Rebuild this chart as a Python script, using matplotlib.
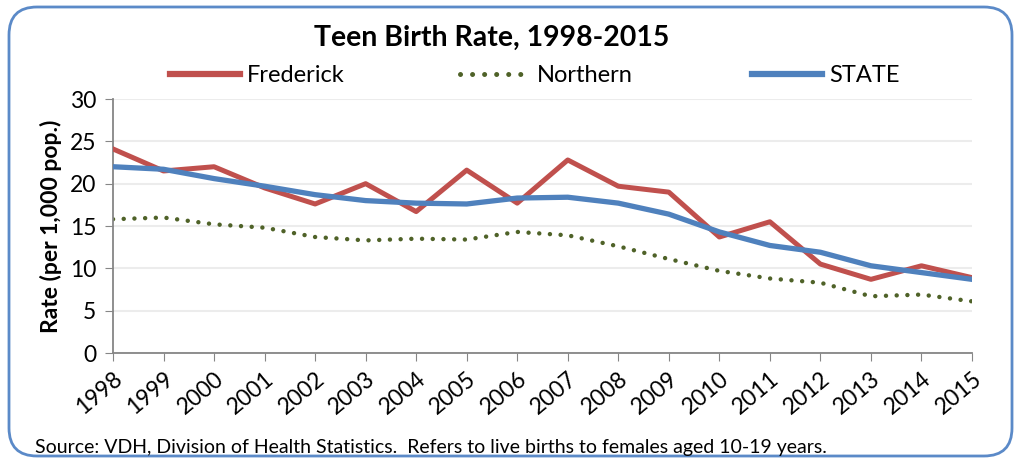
import matplotlib.pyplot as plt
from matplotlib.patches import FancyBboxPatch
from matplotlib.lines import Line2D

# ============================================================
# Data
# ============================================================

years = [1998, 1999, 2000, 2001, 2002, 2003, 2004, 2005, 2006,
         2007, 2008, 2009, 2010, 2011, 2012, 2013, 2014, 2015]

frederick = [24.1, 21.5, 22.0, 19.5, 17.6, 20.0, 16.7, 21.6, 17.7,
             22.8, 19.7, 19.0, 13.7, 15.5, 10.5, 8.7, 10.3, 8.9]
northern = [15.8, 16.0, 15.2, 14.8, 13.7, 13.3, 13.5, 13.4, 14.3,
            13.9, 12.6, 11.1, 9.7, 8.8, 8.3, 6.7, 6.9, 6.1]
state = [22.0, 21.7, 20.6, 19.7, 18.7, 18.0, 17.7, 17.6, 18.3,
         18.4, 17.7, 16.4, 14.3, 12.7, 11.9, 10.3, 9.5, 8.7]

series_names = ["Frederick", "Northern", "STATE"]
yticks = [0, 5, 10, 15, 20, 25, 30]

# ============================================================
# Colors / style
# ============================================================

color_fred  = "#c0504d"
color_north = "#4f6228"
color_state = "#4f81bd"
color_axis  = "#868686"
color_grid  = "#ececec"
color_frame = "#5b8ac8"

DOTS = (0, (0.01, 2.4))

plt.rcParams['font.family'] = ['Lato', 'DejaVu Sans']

W, H = 1021, 461
fig = plt.figure(figsize=(W / 100, H / 100), dpi=100)
ax = fig.add_axes([113 / W, 1 - 353 / H, (972 - 113) / W, (353 - 99) / H])

ax.plot(years, frederick, color=color_fred, linewidth=3.6, zorder=3)
ax.plot(years, northern, color=color_north, linewidth=3.2, linestyle=DOTS,
        dash_capstyle="round", zorder=2)
ax.plot(years, state, color=color_state, linewidth=3.8, zorder=4)

ax.set_xlim(years[0], years[-1])
ax.set_ylim(0, 30)
ax.set_yticks(yticks)
ax.set_xticks(years)
ax.set_xticklabels([str(y) for y in years], rotation=40, ha="right",
                   rotation_mode="anchor", fontsize=16.5)
ax.tick_params(axis="y", labelsize=16.5, length=6, color=color_axis, pad=6)
ax.tick_params(axis="x", length=6, color=color_axis, pad=5)

ax.grid(axis="y", color=color_grid, linewidth=1.5)
ax.set_axisbelow(True)
for side in ["top", "right"]:
    ax.spines[side].set_visible(False)
for side in ["left", "bottom"]:
    ax.spines[side].set_color(color_axis)
    ax.spines[side].set_linewidth(1.3)

ax.set_ylabel("Rate (per 1,000 pop.)", fontsize=16.5, fontweight="bold", labelpad=6)

# Title
fig.text(492 / W, 1 - 38 / H, "Teen Birth Rate, 1998-2015", ha="center", va="center",
         fontsize=20.5, fontweight="bold")

# Legend: one small legend per entry, placed like the original row
handles = [
    Line2D([0], [0], color=color_fred, linewidth=4.5),
    Line2D([0], [0], color=color_north, linewidth=3.6, linestyle=DOTS,
           dash_capstyle="round"),
    Line2D([0], [0], color=color_state, linewidth=4.5),
]
legend_x = [170, 460, 752]
for h, name, lx in zip(handles, series_names, legend_x):
    leg = fig.legend([h], [name], loc="center left",
                     bbox_to_anchor=(lx / W, 1 - 76 / H), frameon=False,
                     fontsize=17, handlelength=2.95, handletextpad=0.3,
                     borderpad=0, borderaxespad=0)

# Source note
fig.text(35 / W, 1 - 447 / H,
         "Source: VDH, Division of Health Statistics.  Refers to live births to females aged 10-19 years.",
         ha="left", va="center", fontsize=14)

# Rounded frame around the chart
frame = FancyBboxPatch((9, 5), W - 18, H - 12,
                       boxstyle="round,pad=0,rounding_size=28",
                       transform=None, fill=False, edgecolor=color_frame, linewidth=2)
fig.patches.append(frame)

fig.savefig("out.png", dpi=100)
